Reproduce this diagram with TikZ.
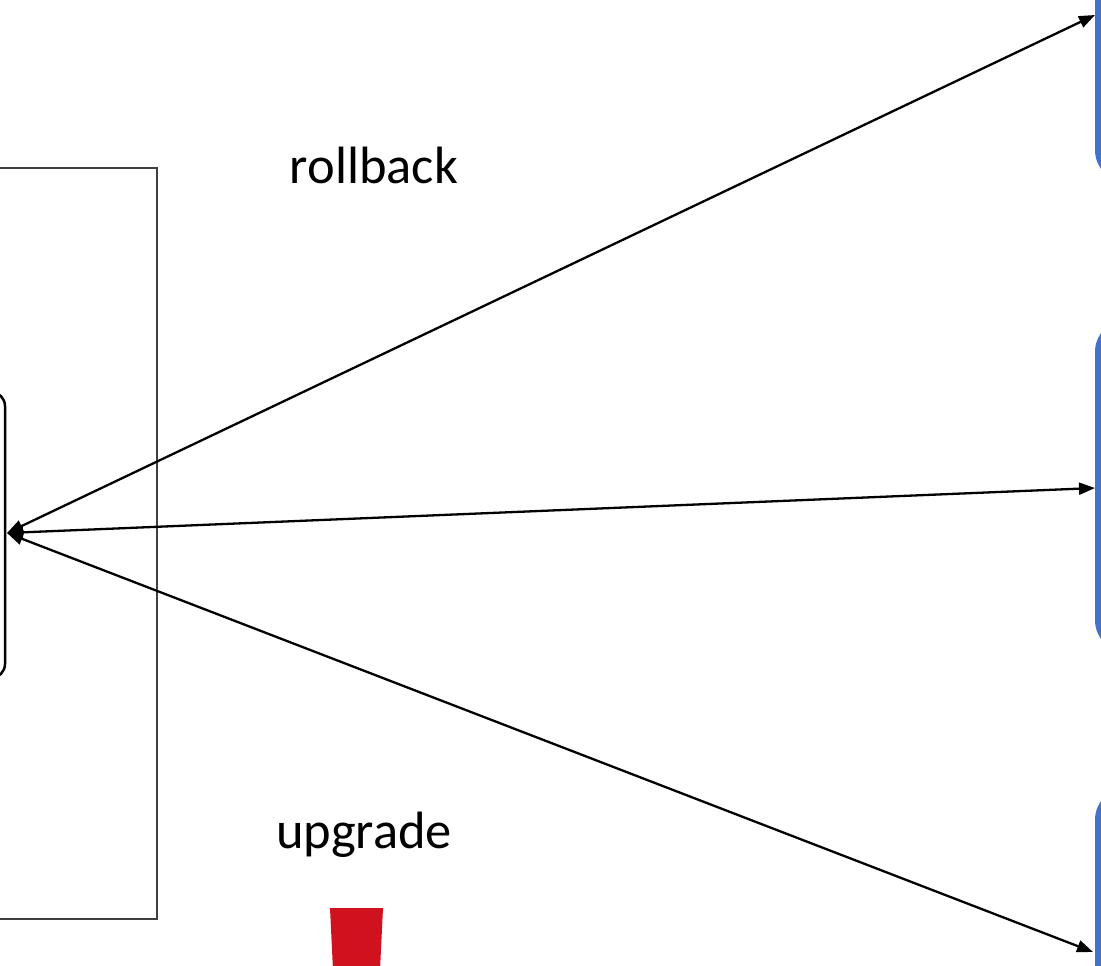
\documentclass[tikz,border=0pt]{standalone}
\usepackage{fontspec}
\setmainfont{Carlito}
\usetikzlibrary{arrows.meta}
\definecolor{boxblue}{HTML}{4472C4}
\definecolor{cupred}{HTML}{D0121F}
\definecolor{framegray}{HTML}{404040}
\tikzset{
  conn/.style={line width=2.3pt, {Triangle[length=16pt,width=12pt]}-{Triangle[length=16pt,width=12pt]}},
  lbl/.style={font=\fontsize{52.5}{60}\selectfont, text=black, inner sep=0pt},
  bluebox/.style={draw=boxblue, line width=6pt, rounded corners=30pt},
}
\begin{document}
\begin{tikzpicture}[x=1pt,y=-1pt]
\useasboundingbox (0,0) rectangle (1101,966);
\clip (0,0) rectangle (1101,966);
% outer frame
\draw[framegray, line width=1.5pt] (-20,168) rectangle (157,919);
% inner rounded box
\draw[black, line width=2.5pt, rounded corners=14pt] (-40,392) rectangle (5,678);
\coordinate (hub) at (7,533);
% blue boxes
\draw[bluebox] (1098,-60) rectangle (1300,180);
\draw[bluebox] (1098,322) rectangle (1300,650);
\draw[bluebox] (1098,790) rectangle (1300,1100);
\coordinate (t1) at (1095,15);
\coordinate (t2) at (1095,488);
\coordinate (t3) at (1093,952);
\draw[conn] (hub) -- (t1);
\draw[conn] (hub) -- (t2);
\draw[conn] (hub) -- (t3);
% labels
\node[lbl] (rb) at (374,165) {rollback};
\node[lbl] (up) at (364,835) {upgrade};
% red cup
\fill[cupred] (330,908) -- (383,908) -- (380,970) -- (333,970) -- cycle;
\end{tikzpicture}
\end{document}
